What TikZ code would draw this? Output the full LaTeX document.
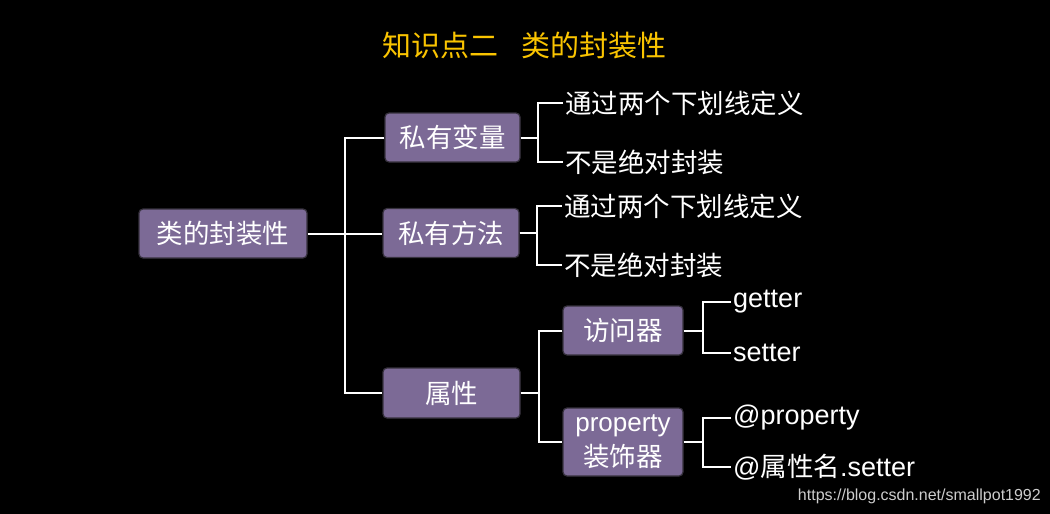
\documentclass[tikz,border=0pt]{standalone}
\usepackage{fontspec}
\setmainfont{Liberation Sans}
\newfontfamily\cjk{Noto Sans CJK SC}
\newfontfamily\lat{Liberation Sans}
\definecolor{boxfill}{RGB}{124,106,150}
\definecolor{boxedge}{RGB}{55,50,62}
\definecolor{titlecol}{RGB}{250,196,0}
\definecolor{wmcol}{RGB}{205,205,205}
\begin{document}
\begin{tikzpicture}[x=1pt,y=-1pt,
  box/.style={draw=boxedge, line width=1.2pt, fill=boxfill, rounded corners=4pt,
    text=white, font=\cjk\fontsize{26.5}{35}\selectfont, inner sep=0pt, align=center},
  leaf/.style={anchor=west, inner sep=0pt, text=white, font=\cjk\fontsize{26.5}{28}\selectfont},
  latleaf/.style={leaf, font=\lat\fontsize{27}{28}\selectfont},
  conn/.style={draw=white, line width=2pt}]
\fill[black] (0,0) rectangle (1050,514);
\useasboundingbox (0,0) rectangle (1050,514);

\node[text=titlecol, font=\cjk\fontsize{29}{30}\selectfont] (title) at (524.5,45) {知识点二\hspace{23pt}类的封装性};

\node[box, minimum width=168, minimum height=49] (root) at (223,233.5) {类的封装性};
\node[box, minimum width=135, minimum height=49] (pv) at (452.5,137.5) {私有变量};
\node[box, minimum width=136, minimum height=49] (pm) at (451,233) {私有方法};
\node[box, minimum width=137, minimum height=50] (attr) at (451.5,393) {属性};
\node[box, minimum width=120, minimum height=49] (acc) at (623,330.5) {访问器};
\node[box, minimum width=120, minimum height=68] (deco) at (623,442) {{\lat\fontsize{26}{35}\selectfont property}\\装饰器};

\node[leaf] (l1a) at (565,103) {通过两个下划线定义};
\node[leaf] (l1b) at (565,162) {不是绝对封装};
\node[leaf] (l2a) at (564,206) {通过两个下划线定义};
\node[leaf] (l2b) at (564,265) {不是绝对封装};
\node[latleaf] (get) at (733,302) {getter};
\node[latleaf] (set) at (733,353) {setter};
\node[latleaf] (atp) at (733,418) {@property};
\node[latleaf] (ats) at (733,467) {@{\cjk\fontsize{26.5}{28}\selectfont 属性名}.setter};

\node[anchor=east, inner sep=0pt, text=wmcol, font=\lat\fontsize{16}{18}\selectfont] (wm) at (1041,496) {https://blog.csdn.net/smallpot1992};

\coordinate (t) at (345,0);
\coordinate (b1) at (538,0);
\coordinate (b2) at (537,0);
\coordinate (b3) at (539,0);
\coordinate (b4) at (703,0);

\draw[conn] (root.east) -- (root.east -| pm.west);
\draw[conn] (pv.west) -| (t |- attr.west) -- (attr.west);

\draw[conn] (pv.east) -- (pv.east -| b1);
\draw[conn] ([xshift=-2pt]l1a.west) -| (b1 |- l1b.west) -- ([xshift=-2pt]l1b.west);

\draw[conn] (pm.east) -- (pm.east -| b2);
\draw[conn] ([xshift=-2pt]l2a.west) -| (b2 |- l2b.west) -- ([xshift=-2pt]l2b.west);

\draw[conn] (attr.east) -- (attr.east -| b3);
\draw[conn] (acc.west) -| (b3 |- deco.west) -- (deco.west);

\draw[conn] (acc.east) -- (acc.east -| b4);
\draw[conn] ([xshift=-2pt]get.west) -| (b4 |- set.west) -- ([xshift=-2pt]set.west);

\draw[conn] (deco.east) -- (deco.east -| b4);
\draw[conn] ([xshift=-2pt]atp.west) -| (b4 |- ats.west) -- ([xshift=-2pt]ats.west);
\end{tikzpicture}
\end{document}
